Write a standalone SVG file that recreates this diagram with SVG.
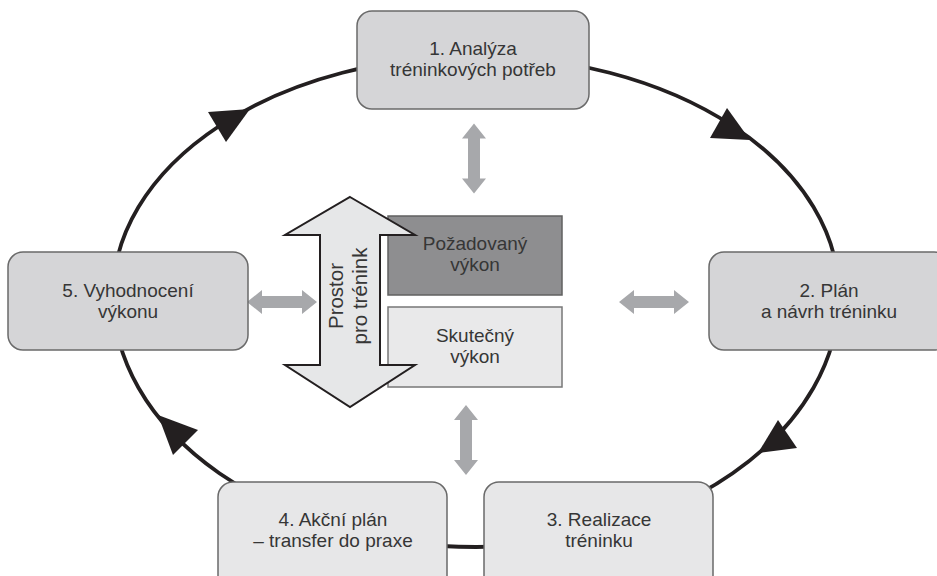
<svg xmlns="http://www.w3.org/2000/svg" width="937" height="576" viewBox="0 0 937 576">
<style>
.loop{fill:none;stroke:#231f20;stroke-width:3.8}
.head{fill:#231f20}
.boxA{fill:#d5d5d7;stroke:#6a6a6a;stroke-width:1.5}
.boxB{fill:#e7e7e8;stroke:#6a6a6a;stroke-width:1.5}
.dark{fill:#8e8e90;stroke:#606060;stroke-width:1.5}
.light{fill:#e9e9ea;stroke:#777;stroke-width:1.5}
.big{fill:#e6e7e8;stroke:#231f20;stroke-width:2;stroke-linejoin:miter}
.gray{fill:#a7a8ab}
text{font-family:"Liberation Sans",Arial,sans-serif;font-size:19px;fill:#363636;text-anchor:middle}
.rot{font-size:20.5px}
</style>
<defs>
<path id="dbl" d="M0,-35 L12,-20 L6,-20 L6,20 L12,20 L0,35 L-12,20 L-6,20 L-6,-20 L-12,-20 Z"/>
</defs>
<rect width="937" height="576" fill="#fff"/>
<g id="connectors">
<path class="loop" d="M113,295 A363,239 0 0 1 839,295 A363,252 0 0 1 113,295 Z"/>
<polygon class="head" points="208,112 226,142 250,109"/>
<polygon class="head" points="727,108 710,138 750,140"/>
<polygon class="head" points="778,420 797,448 758,453"/>
<polygon class="head" points="198,430 173,455 158,415"/>
<use href="#dbl" class="gray" transform="translate(474,158.5)"/>
<use href="#dbl" class="gray" transform="translate(466,440)"/>
<use href="#dbl" class="gray" transform="translate(282,302) rotate(90)"/>
<use href="#dbl" class="gray" transform="translate(654,302) rotate(90)"/>
</g>
<g id="n1">
<rect class="boxA" x="357" y="11" width="232" height="98" rx="15"/>
<text x="473" y="55">1. Analýza</text>
<text x="473" y="76">tréninkových potřeb</text>
</g>
<g id="n2">
<rect class="boxA" x="709" y="252" width="240" height="98" rx="15"/>
<text x="829" y="297">2. Plán</text>
<text x="829" y="318">a návrh tréninku</text>
</g>
<g id="n3">
<rect class="boxB" x="484" y="482" width="229" height="110" rx="15"/>
<text x="599" y="526">3. Realizace</text>
<text x="599" y="547">tréninku</text>
</g>
<g id="n4">
<rect class="boxB" x="218" y="482" width="229" height="110" rx="15"/>
<text x="333" y="526">4. Akční plán</text>
<text x="333" y="547">– transfer do praxe</text>
</g>
<g id="n5">
<rect class="boxA" x="8" y="252" width="240" height="98" rx="15"/>
<text x="128" y="297">5. Vyhodnocení</text>
<text x="128" y="318">výkonu</text>
</g>
<g id="pozadovany">
<rect class="dark" x="388" y="216" width="174" height="79"/>
<text x="475" y="250">Požadovaný</text>
<text x="475" y="271">výkon</text>
</g>
<g id="skutecny">
<rect class="light" x="388" y="307" width="174" height="80"/>
<text x="475" y="342">Skutečný</text>
<text x="475" y="363">výkon</text>
</g>
<g id="prostor">
<path class="big" d="M350,197 L415,235 L380,235 L380,365 L415,365 L350,407 L285,365 L320,365 L320,235 L285,235 Z"/>
<text class="rot" transform="translate(350,296) rotate(-90)"><tspan x="0" y="-7">Prostor</tspan><tspan x="0" y="17">pro trénink</tspan></text>
</g>
</svg>
